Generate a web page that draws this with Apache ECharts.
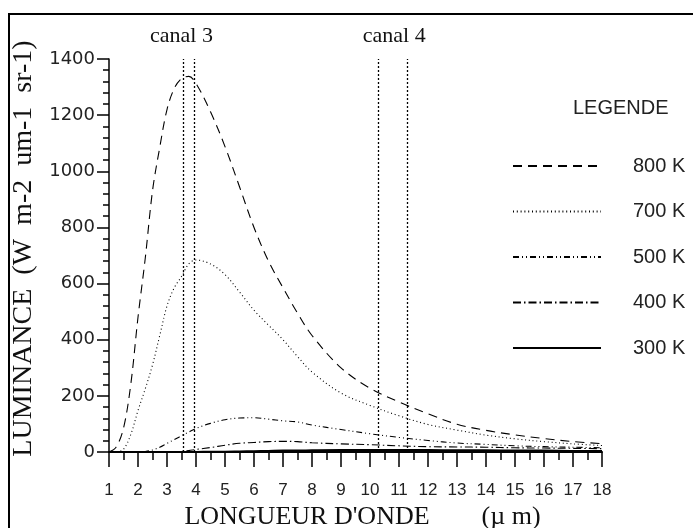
<!DOCTYPE html>
<html>
<head>
<meta charset="utf-8">
<script src="https://cdn.jsdelivr.net/npm/echarts@6/dist/echarts.min.js"></script>
<style>
html,body{margin:0;padding:0;background:#fff;}
#chart{width:693px;height:528px;}
</style>
</head>
<body>
<div id="chart"></div>
<script>
const wavelengths = [1,1.25,1.5,1.75,2,2.25,2.5,2.75,3,3.25,3.5,3.75,4,4.5,5,5.5,6,6.5,7,7.5,8,9,10,11,12,13,14,15,16,17,18];
const lum800 = [0,18,85,240,480,690,930,1085,1220,1295,1330,1338,1313,1212,1088,945,800,680,585,495,415,300,227,178,136,99,77,61,48,37,30];
const lum700 = [0,1,10,62,148,225,310,415,520,585,625,670,684,670,632,570,505,452,400,340,285,210,166,129,98,78,60,47,37,29,23];
const lum500 = [0,0,0,0,0,2,7,17,31,44,58,71,84,102,115,121,122,117,111,107,96,80,65,52,41,32,27,22,19,17,15];
const lum400 = [0,0,0,0,0,0,0,0,0,1,2,5,9,16,24,31,34,37,38,37,33,29,26,22,19,18,17,15,14,13,12];
const lum300 = [0,0,0,0,0,0,0,0,0,0,0,0,0,1,1,2,3,4,5,5,6,7,7,7,7,6,6,5,5,4,4];
const seriesNames = ['800 K','700 K','500 K','400 K','300 K'];
const channelNames = ['canal 3','canal 4'];
const channelBounds = [[3.55,3.93],[10.3,11.3]];
const xTicks = {min:1, max:18, interval:1};
const yTicks = {min:0, max:1400, interval:200};

const pairs = arr => wavelengths.map((w,i)=>[w,arr[i]]);
const dashes = [[9,6],[1,2.8],[6,3,1,3,1,3],[8,3,1.5,3],null];
const values = [lum800,lum700,lum500,lum400,lum300];

const channelLines = [];
channelBounds.forEach(b => b.forEach(x => channelLines.push([{coord:[x,0]},{coord:[x,1400]}])));
const channelAreas = channelBounds.map((b,i)=>[
  {coord:[b[0],0], name:channelNames[i], label:{offset:[i===0?-7:1,0]}},
  {coord:[b[1],1400]}
]);

const series = seriesNames.map((n,i)=>({
  name:n, type:'line', data:pairs(values[i]), symbol:'none', showSymbol:false, smooth:0.35,
  lineStyle:{color:'#000', width:i===4?2:1.1, type:dashes[i]||'solid'},
  itemStyle:{color:'#000'},
  z:3
}));
series.push({
  name:'canaux', type:'line', data:[], symbol:'none', silent:true,
  markLine:{
    silent:true, symbol:'none', label:{show:false},
    lineStyle:{color:'#000', width:1.3, type:[2,2]},
    data:channelLines
  },
  markArea:{
    silent:true, itemStyle:{color:'rgba(0,0,0,0)'},
    label:{show:true, position:'top', distance:12, color:'#111',
      fontFamily:'Liberation Serif', fontSize:22},
    data:channelAreas
  }
});

const chart = echarts.init(document.getElementById('chart'), null, {renderer:'canvas'});
chart.setOption({
  animation:false,
  backgroundColor:'#fff',
  title:{text:'LEGENDE', left:573, top:98, padding:0,
    textStyle:{fontFamily:'Liberation Sans', fontSize:20, fontWeight:'normal', color:'#222'}},
  legend:{
    orient:'vertical', left:512, top:156, padding:0,
    itemWidth:88, itemHeight:20, itemGap:25.5, selectedMode:false,
    data:seriesNames,
    itemStyle:{opacity:0},
    textStyle:{fontFamily:'Liberation Sans', fontSize:20, color:'#222', padding:[0,0,0,27]}
  },
  graphic:[{type:'rect', shape:{x:9, y:14, width:700, height:530},
    style:{fill:null, stroke:'#000', lineWidth:2}, silent:true}],
  grid:{left:109, right:91, top:59, bottom:76, containLabel:false, outerBoundsMode:'none'},
  xAxis:{
    type:'value', min:xTicks.min, max:xTicks.max, interval:xTicks.interval,
    name:"LONGUEUR D'ONDE        (µ m)", nameLocation:'middle', nameGap:50,
    nameTextStyle:{fontFamily:'Liberation Serif', fontSize:26, color:'#111', padding:[0,0,0,14]},
    axisLine:{show:true, lineStyle:{color:'#000', width:2}},
    axisTick:{show:true, length:15, lineStyle:{color:'#000', width:1.5}},
    minorTick:{show:true, splitNumber:2, length:8, lineStyle:{color:'#000', width:1.5}},
    splitLine:{show:false},
    axisLabel:{margin:30, fontFamily:'Liberation Sans', fontSize:17, color:'#222'}
  },
  yAxis:{
    type:'value', min:yTicks.min, max:yTicks.max, interval:yTicks.interval,
    name:'LUMINANCE  (W  m-2  um-1  sr-1)', nameLocation:'middle', nameGap:71,
    nameTextStyle:{fontFamily:'Liberation Serif', fontSize:28, color:'#111', padding:[0,0,0,14]},
    axisLine:{show:true, lineStyle:{color:'#000', width:1.5}},
    axisTick:{show:true, length:12, lineStyle:{color:'#000', width:1.5}},
    minorTick:{show:true, splitNumber:5, length:6, lineStyle:{color:'#000', width:1.5}},
    splitLine:{show:false},
    axisLabel:{margin:14, fontFamily:'DejaVu Sans', fontSize:18, color:'#222',
      formatter: v => String(v)}
  },
  series:series
});
</script>
</body>
</html>
